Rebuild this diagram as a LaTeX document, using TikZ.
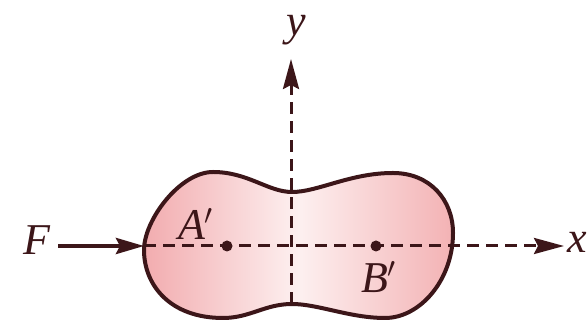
\documentclass[tikz,border=0pt]{standalone}
\usepackage{fontspec}
\setmainfont{Liberation Serif}
\usetikzlibrary{arrows.meta}
\definecolor{ink}{RGB}{60,22,25}
\definecolor{pinkL}{RGB}{242,172,175}
\definecolor{pinkR}{RGB}{243,178,180}
\definecolor{pinkM}{RGB}{253,240,240}
\tikzset{
  axisline/.style={draw=ink, line width=1.5pt, dash pattern=on 6pt off 3.5pt,
    -{Stealth[length=15pt,width=8pt,inset=2pt]}},
  forcearrow/.style={draw=ink, line width=2pt,
    -{Stealth[length=14pt,width=8pt,inset=2pt]}},
  lbl/.style={text=ink, font=\fontsize{22}{26}\selectfont\itshape, inner sep=0pt},
  dot/.style={circle, fill=ink, minimum size=5.5pt, inner sep=0pt},
}
\begin{document}
\begin{tikzpicture}[x=0.5pt,y=-0.5pt]
\useasboundingbox[fill=white] (0,0) rectangle (588,324);
% body
\path[draw=ink, line width=2pt, left color=pinkL, right color=pinkR, middle color=pinkM]
  (144,250) .. controls (144,220) and (180,172) .. (213,172)
  .. controls (248,172) and (268,192) .. (292,192)
  .. controls (318,192) and (350,173) .. (393,173)
  .. controls (430,173) and (453,200) .. (453,233)
  .. controls (453,280) and (420,318) .. (385,318)
  .. controls (350,318) and (318,304) .. (292,304)
  .. controls (265,304) and (250,318) .. (223,318)
  .. controls (170,318) and (144,285) .. (144,250) -- cycle;
% coordinates
\coordinate (yb) at (291,304);
\coordinate (yt) at (291,59);
\coordinate (xl) at (144,246);
\coordinate (xr) at (564,246);
\coordinate (fs) at (58,246);
% axes
\draw[axisline] (yb) -- (yt);
\draw[axisline] (xl) -- (xr);
% force
\draw[forcearrow] (fs) -- (xl);
% points
\node[dot] (A) at (227,246) {};
\node[dot] (B) at (376,246) {};
% labels
\node[lbl] (Al) at (196,224) {A$'$};
\node[lbl] (Bl) at (379,277) {B$'$};
\node[lbl] (Fl) at (37,240) {F};
\node[lbl] (yl) at (296,30) {y};
\node[lbl] (xlab) at (577,242) {x};
\end{tikzpicture}
\end{document}
